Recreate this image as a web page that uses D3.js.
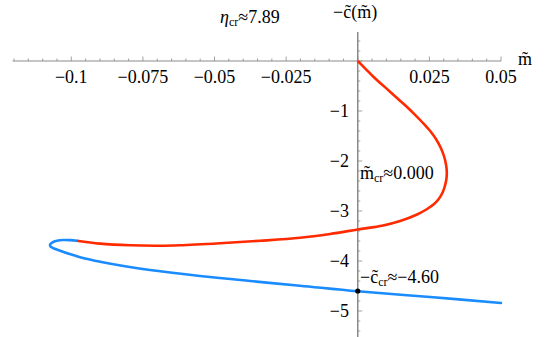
<!DOCTYPE html>
<html><head><meta charset="utf-8">
<script src="https://cdn.jsdelivr.net/npm/d3@7"></script>
<style>
svg text, svg tspan { font-family: "Liberation Serif", Tinos, "Times New Roman", "Nimbus Roman", FreeSerif, serif !important; }
</style>
</head><body style="margin:0"><svg id="c" width="545" height="337" style="display:block"></svg>
<script>
// red branch (m, -c)
const redM = [0, 0.00272, 0.00545, 0.00834, 0.01128, 0.01418, 0.01711, 0.02001, 0.0229, 0.02542, 0.02751, 0.02908, 0.0302, 0.03083, 0.03108, 0.03094, 0.03041, 0.02961, 0.02839, 0.02664, 0.0242, 0.02071, 0.01477, 0.00883, 0, -0.00967, -0.02014, -0.03411, -0.04808, -0.06205, -0.06903, -0.07951, -0.08998, -0.09801];
const redC = [0, -0.156, -0.314, -0.464, -0.614, -0.764, -0.914, -1.076, -1.246, -1.41, -1.58, -1.75, -1.92, -2.08, -2.22, -2.36, -2.50, -2.63, -2.75, -2.86, -2.96, -3.07, -3.20, -3.29, -3.37, -3.46, -3.536, -3.596, -3.644, -3.684, -3.694, -3.686, -3.652, -3.594];
// blue branch
const blueM = [-0.09801, -0.10045, -0.1029, -0.10499, -0.10656, -0.10737, -0.10726, -0.10639, -0.10464, -0.1022, -0.09941, -0.09522, -0.08998, -0.08125, -0.07252, -0.05506, -0.0376, -0.02015, 0, 0.02524, 0.05];
const blueC = [-3.594, -3.582, -3.58, -3.596, -3.626, -3.67, -3.71, -3.74, -3.78, -3.83, -3.88, -3.95, -4.014, -4.104, -4.18, -4.30, -4.40, -4.494, -4.606, -4.72, -4.84];
const xTicks = [-0.1, -0.075, -0.05, -0.025, 0.025, 0.05];
const xTickLabels = ["−0.1", "−0.075", "−0.05", "−0.025", "0.025", "0.05"];
const yTicks = [-1, -2, -3, -4, -5];
const yTickLabels = ["−1", "−2", "−3", "−4", "−5"];
const critC = -4.60;

const FONT = "Liberation Serif";
const svg = d3.select("#c");
const x = d3.scaleLinear().domain([-0.12, 0.05]).range([14, 501]);
const y = d3.scaleLinear().domain([0, -5]).range([61, 311]);
const axisCol = "#8a8a8a";

// horizontal axis
svg.append("line").attr("x1", x(-0.1205)).attr("x2", x(0.05)).attr("y1", y(0)).attr("y2", y(0))
  .attr("stroke", axisCol).attr("stroke-width", 1);
const minorX = d3.range(-120, 51, 5).map(v => v / 1000);
svg.selectAll(".mx").data(minorX).enter().append("line")
  .attr("x1", d => x(d)).attr("x2", d => x(d))
  .attr("y1", y(0)).attr("y2", d => y(0) - (Math.abs(Math.round(d * 1000) % 25) === 0 ? 4.5 : 2.5))
  .attr("stroke", axisCol).attr("stroke-width", 0.8);
svg.selectAll(".xl").data(xTicks).enter().append("text")
  .attr("x", d => x(d)).attr("y", 83).attr("text-anchor", "middle")
  .attr("font-family", FONT).attr("font-size", 18).text((d, i) => xTickLabels[i]);

// vertical axis
svg.append("line").attr("x1", x(0)).attr("x2", x(0)).attr("y1", y(0.58)).attr("y2", y(-5.6))
  .attr("stroke", "#7a7a7a").attr("stroke-width", 1.3);
const minorY = d3.range(2, -28, -1).map(v => v / 5);
svg.selectAll(".my").data(minorY).enter().append("line")
  .attr("x1", x(0)).attr("x2", d => x(0) + (Math.abs(Math.round(d * 5) % 5) === 0 ? 4.5 : 2.5))
  .attr("y1", d => y(d)).attr("y2", d => y(d))
  .attr("stroke", axisCol).attr("stroke-width", 0.8);
svg.selectAll(".yl").data(yTicks).enter().append("text")
  .attr("x", 349).attr("y", d => y(d)).attr("dy", "0.33em").attr("text-anchor", "end")
  .attr("font-family", FONT).attr("font-size", 18).text((d, i) => yTickLabels[i]);

// curves
const line = d3.line().x(d => x(d[0])).y(d => y(d[1])).curve(d3.curveCatmullRom.alpha(0.5));
svg.append("path").attr("d", line(blueM.map((m, i) => [m, blueC[i]])))
  .attr("fill", "none").attr("stroke", "#1a8cff").attr("stroke-width", 2.6).attr("stroke-linecap", "round");
svg.append("path").attr("d", line(redM.map((m, i) => [m, redC[i]])))
  .attr("fill", "none").attr("stroke", "#ff2a00").attr("stroke-width", 2.6);

// critical point
svg.append("circle").attr("cx", x(0)).attr("cy", y(critC)).attr("r", 2.6).attr("fill", "#000");

// labels
function txt(xp, yp) {
  return svg.append("text").attr("x", xp).attr("y", yp).attr("font-family", FONT).attr("font-size", 18);
}
const t1 = txt(220, 23);
t1.append("tspan").attr("font-style", "italic").text("η");
t1.append("tspan").attr("font-size", 12).attr("dy", 3).text("cr");
t1.append("tspan").attr("dy", -3).text("≈7.89");

txt(333, 18).text("−c\u0303(m\u0303)");
txt(518, 65).text("m\u0303");

const t2 = txt(360, 179);
t2.append("tspan").text("m\u0303");
t2.append("tspan").attr("font-size", 12).attr("dy", 3).text("cr");
t2.append("tspan").attr("dy", -3).text("≈0.000");

const t3 = txt(360, 283);
t3.append("tspan").text("−c\u0303");
t3.append("tspan").attr("font-size", 12).attr("dy", 3).text("cr");
t3.append("tspan").attr("dy", -3).text("≈−4.60");
</script></body></html>
